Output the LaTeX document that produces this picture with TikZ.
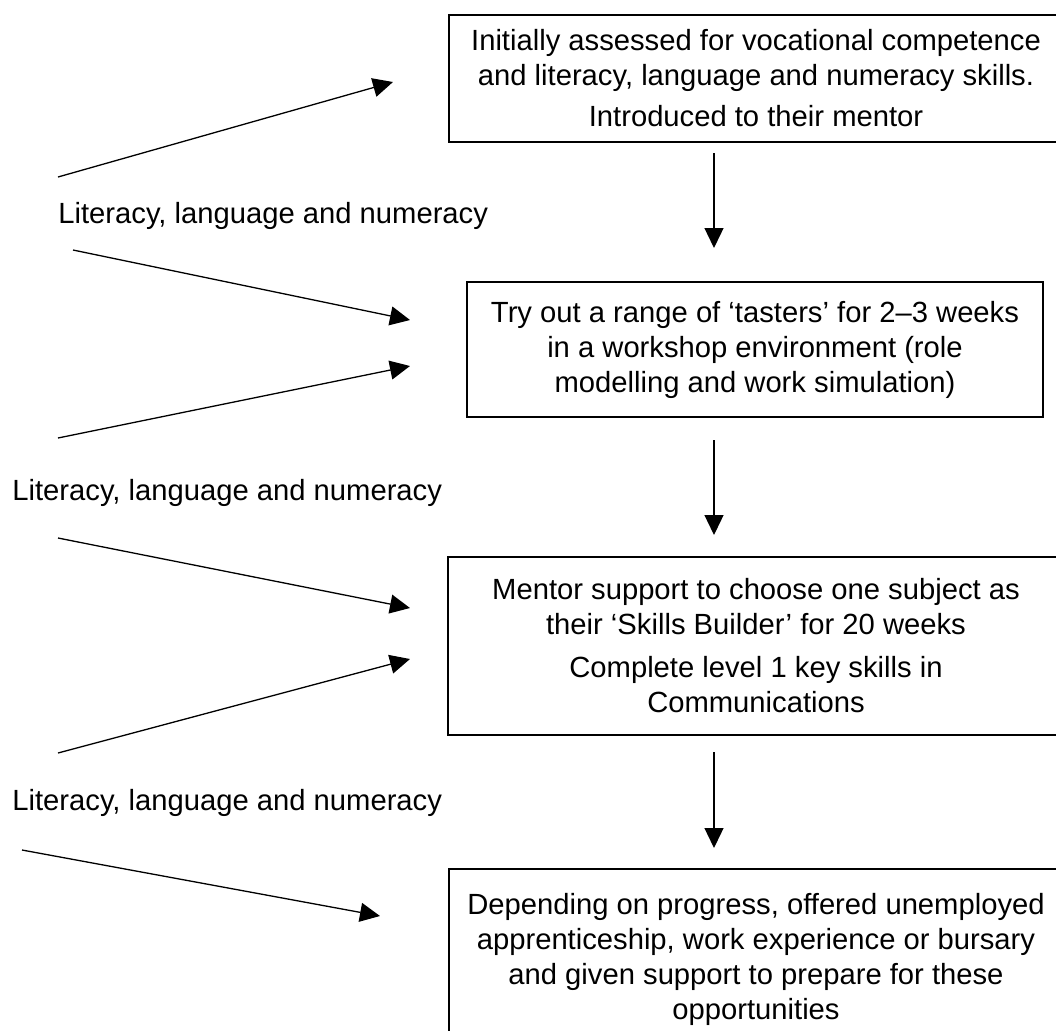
\documentclass[tikz,border=0pt]{standalone}
\usepackage{fontspec}
\setmainfont{Liberation Sans}
\usetikzlibrary{arrows.meta}
\begin{document}
\begin{tikzpicture}[x=0.5pt,y=-0.5pt,
  txt/.style={font=\fontsize{14.6}{17.5}\selectfont},
  box/.style={txt,draw,line width=1.35pt,align=center,inner sep=0pt},
  lab/.style={txt,anchor=base west,inner sep=0pt},
  arr/.style={line width=0.65pt,-{Triangle[length=10pt,width=9.5pt]}}]
\useasboundingbox (0,0) rectangle (1056,1030);
\clip (0,0) rectangle (1056,1030);
\node[box,minimum width=307pt,minimum height=63.5pt] (b1) at (756,78.5)
  {Initially assessed for vocational competence\\and literacy, language and numeracy skills.\\[3pt]Introduced to their mentor};
\node[box,minimum width=288pt,minimum height=67.5pt] (b2) at (755,349.5)
  {Try out a range of ‘tasters’ for 2–3 weeks\\in a workshop environment (role\\modelling and work simulation)};
\node[box,minimum width=308pt,minimum height=89pt] (b3) at (756,646)
  {Mentor support to choose one subject as\\their ‘Skills Builder’ for 20 weeks\\[4pt]Complete level 1 key skills in\\Communications};
\node[box,minimum width=307pt,minimum height=90pt] (b4) at (756,959)
  {Depending on progress, offered unemployed\\apprenticeship, work experience or bursary\\and given support to prepare for these\\opportunities};
\node[lab] (l1) at (58,223) {Literacy, language and numeracy};
\node[lab] (l2) at (12,500) {Literacy, language and numeracy};
\node[lab] (l3) at (12,810) {Literacy, language and numeracy};
\coordinate (s1) at (58,177);  \coordinate (e1) at (393,82);
\coordinate (s2) at (73,250);  \coordinate (e2) at (410,320);
\coordinate (s3) at (58,438);  \coordinate (e3) at (410,366);
\coordinate (s4) at (58,538);  \coordinate (e4) at (410,608);
\coordinate (s5) at (58,753);  \coordinate (e5) at (410,659);
\coordinate (s6) at (22,850);  \coordinate (e6) at (380,916);
\coordinate (d1) at (714,153); \coordinate (f1) at (714,248);
\coordinate (d2) at (714,440); \coordinate (f2) at (714,535);
\coordinate (d3) at (714,752); \coordinate (f3) at (714,848);
\foreach \i in {1,...,6} {\draw[arr] (s\i) -- (e\i);}
\foreach \i in {1,2,3} {\draw[arr] (d\i) -- (f\i);}
\end{tikzpicture}
\end{document}
